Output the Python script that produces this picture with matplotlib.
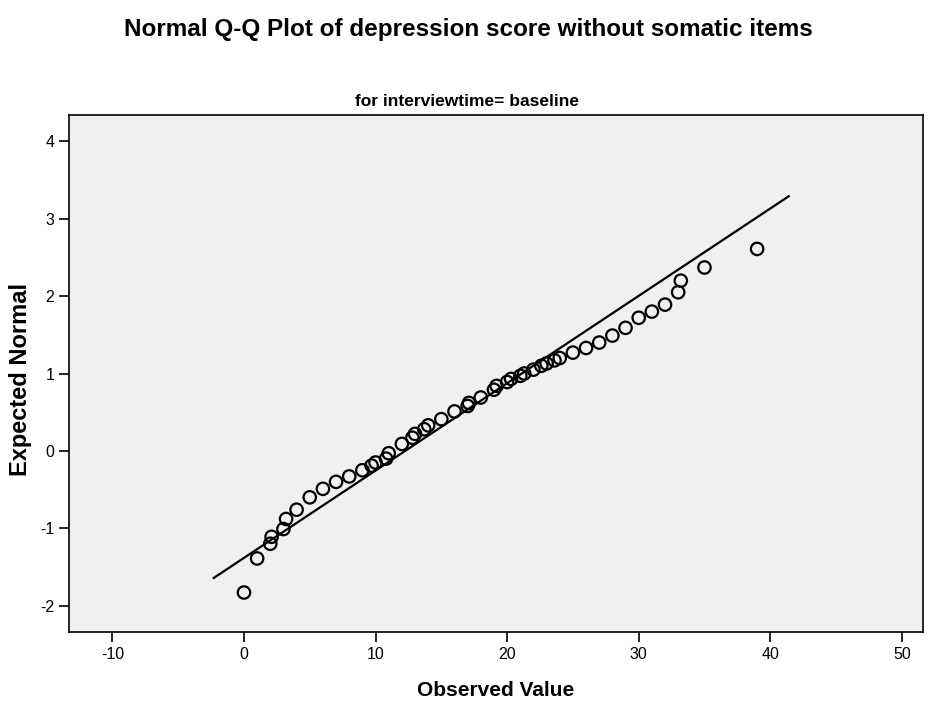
import matplotlib
matplotlib.use("Agg")
import matplotlib.pyplot as plt
import numpy as np

plt.rcParams['font.family'] = ['Liberation Sans', 'DejaVu Sans']
plt.rcParams['axes.unicode_minus'] = False

observed = [0, 1, 2, 2.1, 3, 3.2, 4, 5, 6, 7, 8, 9, 9.7, 10, 10.8, 11, 12,
            12.8, 13, 13.7, 14, 15, 16, 17, 17.1, 18, 19, 19.2, 20, 20.3,
            21, 21.3, 22, 22.6, 23, 23.6, 24, 25, 26, 27, 28, 29, 30, 31,
            32, 33, 33.2, 35, 39]
expected = [-1.83, -1.39, -1.20, -1.11, -1.01, -0.88, -0.76, -0.60, -0.49,
            -0.40, -0.33, -0.25, -0.19, -0.15, -0.10, -0.03, 0.09, 0.17,
            0.22, 0.28, 0.33, 0.41, 0.51, 0.58, 0.62, 0.69, 0.79, 0.84,
            0.89, 0.93, 0.97, 1.00, 1.05, 1.10, 1.13, 1.17, 1.20, 1.27,
            1.33, 1.40, 1.49, 1.59, 1.72, 1.80, 1.89, 2.05, 2.20, 2.37, 2.61]

# Reference normal line
line_mean = 12.25
line_sd = 8.86
line_x = [-2.3, 41.4]

x_ticks = [-10, 0, 10, 20, 30, 40, 50]
y_ticks = [-2, -1, 0, 1, 2, 3, 4]

fig = plt.figure(figsize=(9.36, 7.04), dpi=100)
ax = fig.add_axes([0.0737, 0.1023, 0.9123, 0.7343])
ax.set_facecolor('#f0f0f0')

lx = np.array(line_x)
ax.plot(lx, (lx - line_mean) / line_sd, color='black', lw=1.6, zorder=2)
ax.scatter(observed, expected, s=80, facecolors='none', edgecolors='black',
           linewidths=1.6, zorder=3)

ax.set_xlim(-13.3, 51.6)
ax.set_ylim(-2.34, 4.34)
ax.set_xticks(x_ticks)
ax.set_yticks(y_ticks)
ax.tick_params(axis='both', direction='out', length=7, width=1.2,
               labelsize=11.5, top=False, right=False)
for sp in ax.spines.values():
    sp.set_linewidth(1.2)
    sp.set_color('black')

ax.set_xlabel('Observed Value', fontsize=15, fontweight='bold', labelpad=14)
ax.set_ylabel('Expected Normal', fontsize=17, fontweight='bold')
ax.yaxis.set_label_coords(-0.043, 0.489)
ax.text(0.466, 1.012, 'for interviewtime= baseline', transform=ax.transAxes,
        ha='center', va='bottom', fontsize=12.5, fontweight='bold')

fig.text(0.5, 0.958, 'Normal Q-Q Plot of depression score without somatic items',
         ha='center', va='center', fontsize=17.5, fontweight='bold')

fig.savefig('out.png', dpi=100, facecolor='white')
